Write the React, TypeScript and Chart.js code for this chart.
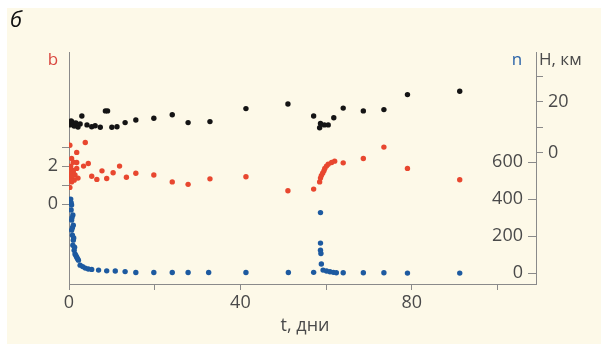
import React, { useEffect, useRef } from 'react';
import { Chart, registerables } from 'chart.js';
Chart.register(...registerables);

// t, days
const xTicks = [0, 20, 40, 60, 80, 100];
const xLabels = ['0', '', '40', '', '80', ''];
const bTicks = [0, 1, 2, 3];
const bLabels = ['0', '', '2', ''];
const nTicks = [0, 200, 400, 600];
const nLabels = ['0', '200', '400', '600'];
const hTicks = [0, 10, 20, 30];
const hLabels = ['0', '', '20', ''];

// H, km (black)
const hTimes = [0.2, 0.5, 0.7, 1.0, 1.2, 1.6, 2.1, 2.6, 3.0, 4.2, 5.3, 6.1, 7.3, 8.5, 9.0, 10.0, 11.2, 13.1, 15.6, 19.8, 24.1, 27.8, 32.9, 41.3, 51.1, 57.1, 58.5, 58.7, 59.6, 60.5, 61.8, 64.0, 68.7, 73.5, 79.0, 91.2];
const hValues = [11.0, 12.6, 12.2, 11.2, 10.6, 11.8, 10.2, 11.4, 14.5, 11.0, 10.3, 10.7, 10.1, 16.5, 16.5, 10.1, 10.3, 11.9, 12.9, 13.6, 15.0, 11.9, 12.3, 17.4, 19.2, 14.5, 9.9, 11.6, 11.0, 11.0, 13.8, 17.6, 16.5, 17.0, 22.9, 24.2];

// b (red)
const bTimes = [0.2, 0.2, 0.4, 0.4, 0.6, 0.6, 0.7, 1.0, 1.2, 1.4, 1.8, 1.8, 1.8, 2.1, 3.4, 3.8, 4.5, 5.3, 6.5, 7.7, 8.8, 10.3, 11.8, 13.4, 15.6, 19.8, 24.1, 27.8, 32.9, 41.3, 51.1, 57.1, 58.5, 58.7, 58.9, 59.2, 59.5, 59.7, 60.1, 60.5, 61.3, 62.0, 64.0, 68.7, 73.5, 79.0, 91.2, 0.3, 0.5, 0.8, 0.3, 1.0];
const bValues = [3.1, 0.88, 2.0, 1.44, 2.4, 1.17, 1.8, 1.7, 1.26, 1.53, 2.72, 2.19, 1.88, 1.37, 2.0, 3.24, 2.14, 1.47, 1.3, 1.75, 1.35, 1.65, 2.0, 1.41, 1.62, 1.53, 1.17, 1.04, 1.33, 1.44, 0.7, 0.79, 1.17, 1.37, 1.5, 1.63, 1.75, 1.88, 2.0, 2.1, 2.19, 2.26, 2.17, 2.4, 3.0, 1.88, 1.28, 1.6, 1.3, 1.5, 1.9, 2.2];

// n (blue)
const nTimes = [0.4, 0.6, 0.5, 0.9, 0.6, 1.0, 0.6, 0.8, 1.0, 0.9, 1.2, 1.4, 1.8, 2.2, 2.6, 3.8, 5.3, 6.9, 8.8, 10.8, 13.1, 15.6, 19.8, 24.1, 27.8, 32.6, 41.3, 51.2, 57.1, 58.7, 58.7, 58.7, 58.8, 58.9, 59.3, 60.1, 60.9, 61.7, 62.4, 64.0, 68.7, 73.5, 79.0, 91.2, 0.5, 0.7, 0.8, 1.1, 1.3, 1.6, 2.0, 3.2, 4.5];
const nValues = [400, 368, 341, 314, 286, 259, 232, 205, 178, 151, 124, 103, 86, 70, 43, 27, 20, 16, 12, 11, 8, 3, 3, 3, 3, 3, 3, 3, 4, 327, 162, 124, 106, 49, 16, 11, 7, 4, 2, 2, 2, 2, 0, 0, 380, 300, 245, 190, 140, 95, 78, 35, 22];

const AXIS = '#8a8a8a';
const LABEL = '#4a4a4a';
const FONT = "'Open Sans', sans-serif";

const pts = (t: number[], v: number[]) => t.map((x, i) => ({ x, y: v[i] }));

export default function App() {
  const ref = useRef<HTMLCanvasElement | null>(null);
  useEffect(() => {
    if (!ref.current) return;
    const textPlugin = {
      id: 'extraText',
      afterDraw(chart: any) {
        const { ctx, chartArea, scales } = chart;
        ctx.save();
        // n tick marks (inside, left of right axis line)
        ctx.strokeStyle = AXIS;
        ctx.lineWidth = 1;
        nTicks.forEach((v) => {
          const y = Math.round(scales.n.getPixelForValue(v)) + 0.5;
          ctx.beginPath();
          ctx.moveTo(chartArea.right - 8, y);
          ctx.lineTo(chartArea.right, y);
          ctx.stroke();
        });
        ctx.textBaseline = 'middle';
        ctx.font = `italic 22px ${FONT}`;
        ctx.fillStyle = '#111';
        ctx.textAlign = 'left';
        ctx.fillText('б', 10, 21);
        ctx.font = `17px ${FONT}`;
        ctx.fillStyle = '#d9473f';
        ctx.textAlign = 'center';
        ctx.fillText('b', 53, 60);
        ctx.fillStyle = '#2a63a8';
        ctx.fillText('n', 517, 60);
        ctx.fillStyle = LABEL;
        ctx.textAlign = 'left';
        ctx.fillText('H, км', 539, 60);
        ctx.textAlign = 'center';
        ctx.font = `18px ${FONT}`;
        ctx.fillText('t, дни', 305, 326);
        ctx.restore();
      },
    };
    const tickFont = { family: FONT, size: 18 };
    const chart = new Chart(ref.current, {
      type: 'scatter',
      data: {
        datasets: [
          { label: 'H', data: pts(hTimes, hValues), yAxisID: 'h', backgroundColor: '#141414', borderColor: '#141414', pointRadius: 2.7, borderWidth: 0 },
          { label: 'b', data: pts(bTimes, bValues), yAxisID: 'b', backgroundColor: '#e8472f', borderColor: '#e8472f', pointRadius: 2.7, borderWidth: 0 },
          { label: 'n', data: pts(nTimes, nValues), yAxisID: 'n', backgroundColor: '#1d5aa0', borderColor: '#1d5aa0', pointRadius: 2.7, borderWidth: 0 },
        ],
      },
      options: {
        responsive: false,
        animation: false,
        layout: { padding: { top: 52, left: 0, right: 0, bottom: 0 } },
        plugins: { legend: { display: false }, tooltip: { enabled: false } },
        scales: {
          x: {
            type: 'linear',
            min: 0,
            max: 109,
            afterBuildTicks: (s: any) => { s.ticks = xTicks.map((value) => ({ value })); },
            afterFit: (s: any) => { s.height = 62; },
            ticks: {
              callback: (v: any) => xLabels[xTicks.indexOf(Number(v))] ?? '',
              color: LABEL,
              font: tickFont,
              padding: 2,
              maxRotation: 0,
              autoSkip: false,
            },
            grid: { drawOnChartArea: false, tickLength: 6, color: AXIS },
            border: { color: AXIS },
          },
          b: {
            type: 'linear',
            position: 'left',
            min: -4.2,
            max: 8,
            afterBuildTicks: (s: any) => { s.ticks = bTicks.map((value) => ({ value })); },
            afterFit: (s: any) => { s.width = 69; },
            ticks: {
              callback: (v: any) => bLabels[bTicks.indexOf(Number(v))] ?? '',
              color: LABEL,
              font: tickFont,
              padding: 4,
              autoSkip: false,
            },
            grid: { drawOnChartArea: false, tickLength: 7, color: AXIS },
            border: { color: AXIS },
          },
          n: {
            type: 'linear',
            position: 'right',
            weight: 0,
            min: -59,
            max: 1195,
            afterBuildTicks: (s: any) => { s.ticks = nTicks.map((value) => ({ value })); },
            afterFit: (s: any) => { s.width = 0; },
            ticks: {
              callback: (v: any) => nLabels[nTicks.indexOf(Number(v))] ?? '',
              mirror: true,
              crossAlign: 'near',
              color: LABEL,
              font: tickFont,
              padding: -13,
              autoSkip: false,
            },
            grid: { display: false },
            border: { display: false },
          },
          h: {
            type: 'linear',
            position: 'right',
            weight: 1,
            min: -51.4,
            max: 39.6,
            afterBuildTicks: (s: any) => { s.ticks = hTicks.map((value) => ({ value })); },
            afterFit: (s: any) => { s.width = 65; },
            ticks: {
              callback: (v: any) => hLabels[hTicks.indexOf(Number(v))] ?? '',
              color: LABEL,
              font: tickFont,
              padding: 5,
              autoSkip: false,
            },
            grid: { drawOnChartArea: false, tickLength: 7, color: AXIS },
            border: { color: AXIS },
          },
        },
      },
      plugins: [textPlugin],
    });
    return () => chart.destroy();
  }, []);
  return (
    <div style={{ position: 'absolute', left: 0, top: 0, width: 601, height: 346 }}>
      <div style={{ position: 'absolute', left: 7, top: 8, width: 594, height: 336, background: '#fdf9e8' }} />
      <canvas ref={ref} width={601} height={346} style={{ position: 'absolute', left: 0, top: 0, width: 601, height: 346, display: 'block' }} />
    </div>
  );
}
